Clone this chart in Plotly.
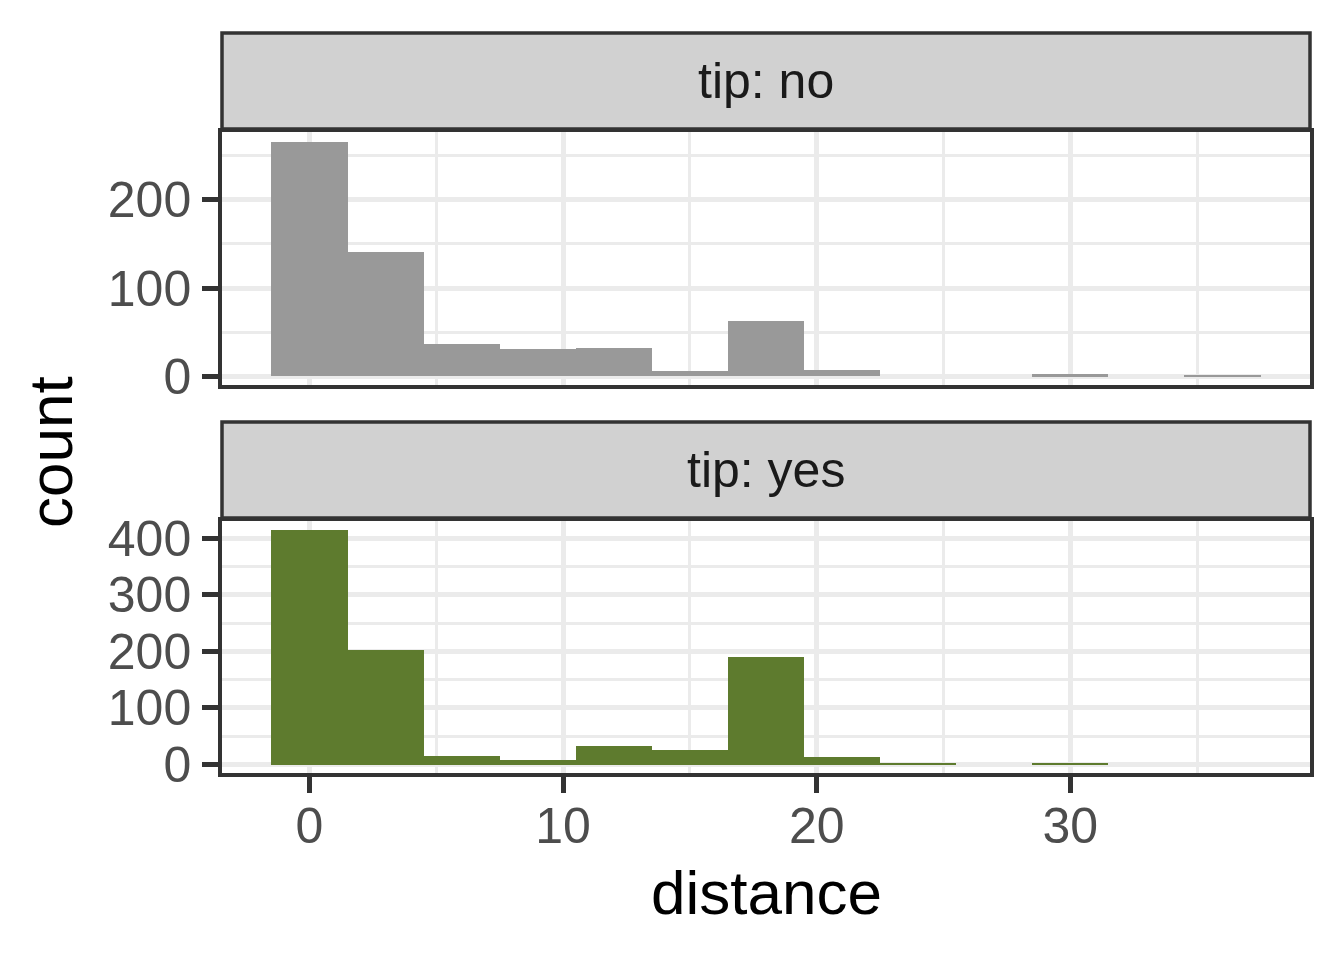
import plotly.graph_objects as go

# ---- data ----
bin_centers = [0, 3, 6, 9, 12, 15, 18, 21, 24, 27, 30, 33, 36]
bin_width = 3
counts_no = [266, 141, 36, 31, 32, 6, 63, 7, 0, 0, 2, 0, 1]
counts_yes = [415, 202, 15, 8, 33, 26, 190, 14, 2, 0, 2, 0, 0]
panel_labels = ["tip: no", "tip: yes"]
x_ticks = [0, 10, 20, 30]
x_minor = [5, 15, 25, 35]
y_ticks_no = [0, 100, 200]
y_minor_no = [50, 150, 250]
y_ticks_yes = [0, 100, 200, 300, 400]
y_minor_yes = [50, 150, 250, 350]

# page has an 8px body margin; size the figure so it fits the 1344x960 window
OFF = 8
W, H = 1344 - 2 * OFF, 960 - 2 * OFF
FONT = "Liberation Sans, Arial, sans-serif"
BORDER = "#333333"
GRID = "#EBEBEB"
MAJ_W, MIN_W = 5, 2.5

def px_x(p):
    return (p - OFF) / W

def px_y(p):
    return 1 - (p - OFF) / H

x_dom = [px_x(222), px_x(1310)]
top_dom = [px_y(385), px_y(132)]
bot_dom = [px_y(773), px_y(521)]

fig = go.Figure()
fig.add_trace(go.Bar(x=bin_centers, y=counts_no, width=[bin_width] * len(bin_centers),
                     marker=dict(color="#999999", line=dict(width=0)),
                     xaxis="x", yaxis="y", showlegend=False))
fig.add_trace(go.Bar(x=bin_centers, y=counts_yes, width=[bin_width] * len(bin_centers),
                     marker=dict(color="#5E7B2E", line=dict(width=0)),
                     xaxis="x2", yaxis="y2", showlegend=False))

xr = [-3.45, 39.45]
common_axis = dict(showline=True, mirror=True, linecolor=BORDER, linewidth=3.5,
                   showgrid=True, gridcolor=GRID, gridwidth=MAJ_W, zeroline=False,
                   automargin=False,
                   tickfont=dict(family=FONT, size=50, color="#4D4D4D"))

def minor(vals):
    return dict(tickvals=vals, showgrid=True, gridcolor=GRID, gridwidth=MIN_W)

fig.update_layout(
    width=W, height=H,
    margin=dict(l=0, r=0, t=0, b=0, autoexpand=False),
    paper_bgcolor="white", plot_bgcolor="white",
    bargap=0,
    xaxis=dict(domain=x_dom, anchor="y", range=xr, tickvals=x_ticks, showticklabels=False,
               ticks="", minor=minor(x_minor), **common_axis),
    yaxis=dict(domain=top_dom, anchor="x", range=[-10, 277], tickvals=y_ticks_no,
               ticks="outside", ticklen=16, tickwidth=5, tickcolor=BORDER, ticklabelstandoff=1,
               minor=minor(y_minor_no), **common_axis),
    xaxis2=dict(domain=x_dom, anchor="y2", range=xr, tickvals=x_ticks,
                ticks="outside", ticklen=16, tickwidth=5, tickcolor=BORDER, ticklabelstandoff=-10,
                minor=minor(x_minor), **common_axis),
    yaxis2=dict(domain=bot_dom, anchor="x2", range=[-15, 430.6], tickvals=y_ticks_yes,
                ticks="outside", ticklen=16, tickwidth=5, tickcolor=BORDER, ticklabelstandoff=1,
                minor=minor(y_minor_yes), **common_axis),
)

# strips
strips = [(33, 129, panel_labels[0]), (422, 518, panel_labels[1])]
for top, bot, label in strips:
    fig.add_shape(type="rect", xref="paper", yref="paper",
                  x0=x_dom[0], x1=x_dom[1], y0=px_y(bot), y1=px_y(top),
                  fillcolor="#D1D1D1", line=dict(color=BORDER, width=3.5), layer="above")
    fig.add_annotation(x=(x_dom[0] + x_dom[1]) / 2, y=px_y((top + bot) / 2),
                       xref="paper", yref="paper", text=label, showarrow=False,
                       font=dict(family=FONT, size=50, color="#1A1A1A"),
                       xanchor="center", yanchor="middle")

# axis titles
fig.add_annotation(x=px_x(766), y=px_y(892), xref="paper", yref="paper", text="distance",
                   showarrow=False, font=dict(family=FONT, size=62, color="black"),
                   xanchor="center", yanchor="middle")
fig.add_annotation(x=px_x(50), y=px_y(452), xref="paper", yref="paper", text="count",
                   textangle=-90, showarrow=False, font=dict(family=FONT, size=62, color="black"),
                   xanchor="center", yanchor="middle")

fig.write_html("out.html", config={"responsive": False})
